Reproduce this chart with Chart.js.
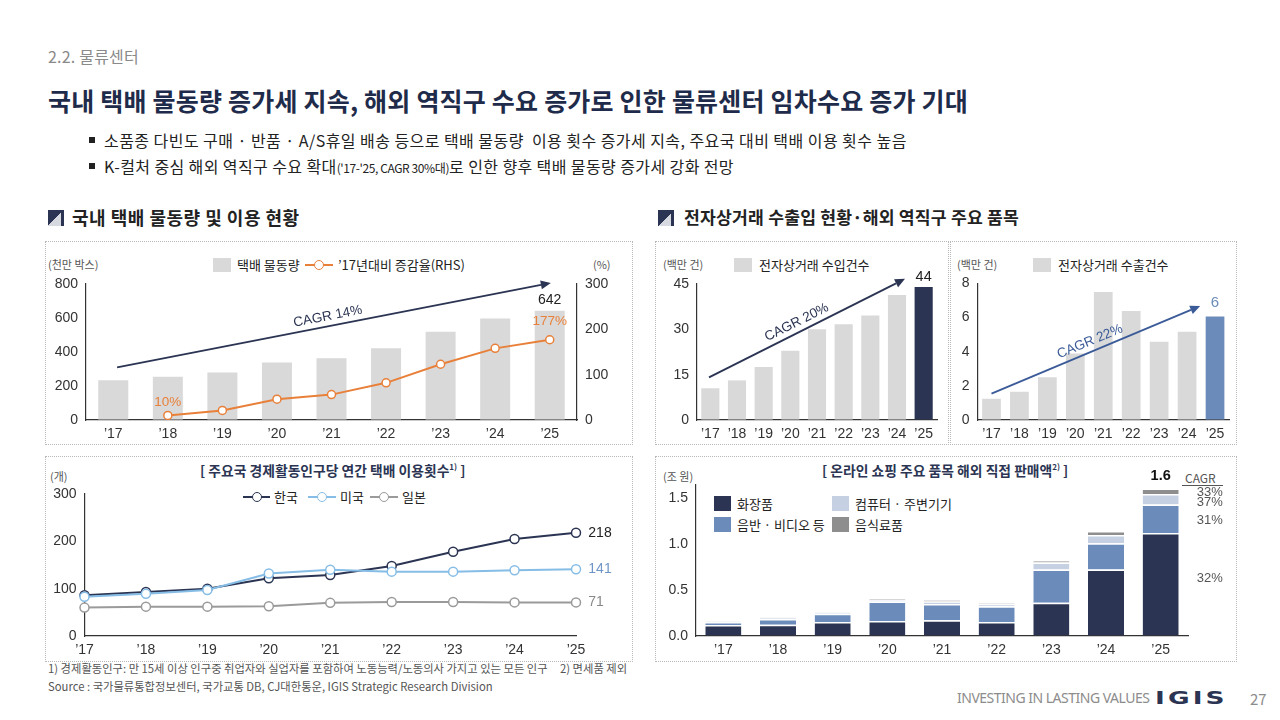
<!DOCTYPE html>
<html><head><meta charset="utf-8">
<script src="https://cdn.jsdelivr.net/npm/chart.js@4.4.1/dist/chart.umd.min.js"></script>
<style>
body{margin:0;width:1280px;height:720px;position:relative;background:#fff;font-family:"Noto Sans CJK KR","Noto Sans",sans-serif;overflow:hidden;color:#222;}
.t{position:absolute;white-space:nowrap;line-height:1;}
.panel{position:absolute;border:1px dotted #b8b8b8;box-sizing:border-box;}
canvas{position:absolute;}
.sq{position:absolute;}
.lg{position:absolute;height:2px;}
.lg i{position:absolute;left:50%;top:50%;width:8px;height:8px;margin:-5px 0 0 -5px;border-radius:50%;background:#fff;border:1.5px solid;}
.icon{position:absolute;width:16px;height:16px;background:linear-gradient(135deg,#2b3553 0 50%,#d6d9df 50% 100%);box-sizing:border-box;border-top:3px solid #2b3553;border-right:3px solid #2b3553;}
</style></head>
<body>
<div class="t" style="left:48px;top:48px;font-size:16px;color:#8a8a8a;letter-spacing:0.2px;">2.2. 물류센터</div>
<div class="t" style="left:48px;top:88px;font-size:25px;font-weight:700;color:#1f2b4a;letter-spacing:0.2px;">국내 택배 물동량 증가세 지속, 해외 역직구 수요 증가로 인한 물류센터 임차수요 증가 기대</div>
<div class="sq" style="left:89px;top:137px;width:6px;height:6px;background:#222;"></div>
<div class="t" style="left:104px;top:132px;font-size:16px;letter-spacing:0.45px;">소품종 다빈도 구매 · 반품 · A/S휴일 배송 등으로 택배 물동량&nbsp; 이용 횟수 증가세 지속, 주요국 대비 택배 이용 횟수 높음</div>
<div class="sq" style="left:89px;top:163px;width:6px;height:6px;background:#222;"></div>
<div class="t" style="left:104px;top:158px;font-size:16px;letter-spacing:0.4px;">K-컬처 중심 해외 역직구 수요 확대<span style="font-size:12px;letter-spacing:-0.4px;">('17-'25, CAGR 30%대)</span>로 인한 향후 택배 물동량 증가세 강화 전망</div>

<div class="icon" style="left:48px;top:210px;"></div>
<div class="t" style="left:72px;top:208px;font-size:18px;font-weight:700;color:#222;letter-spacing:0.5px;">국내 택배 물동량 및 이용 현황</div>
<div class="icon" style="left:658px;top:210px;"></div>
<div class="t" style="left:684px;top:208px;font-size:17.2px;font-weight:700;color:#222;letter-spacing:0.2px;">전자상거래 수출입 현황·해외 역직구 주요 품목</div>

<div class="panel" style="left:45px;top:241px;width:588px;height:204px;"></div>
<div class="panel" style="left:655px;top:241px;width:294px;height:204px;"></div>
<div class="panel" style="left:950px;top:241px;width:287px;height:204px;"></div>
<div class="panel" style="left:45px;top:456px;width:588px;height:206px;"></div>
<div class="panel" style="left:655px;top:456px;width:582px;height:206px;"></div>

<!-- Panel A texts -->
<div class="t" style="left:48px;top:259px;font-size:11px;color:#555;">(천만 박스)</div>
<div class="t" style="left:593px;top:259px;font-size:11px;color:#555;">(%)</div>
<div class="sq" style="left:213px;top:258px;width:18px;height:14px;background:#d9d9d9;"></div>
<div class="t" style="left:237px;top:258px;font-size:13px;color:#222;">택배 물동량</div>
<div class="lg" style="left:305px;top:264px;width:28px;background:#e8803a;"><i style="border-color:#e8803a"></i></div>
<div class="t" style="left:338px;top:258px;font-size:13px;color:#222;">’17년대비 증감율(RHS)</div>

<!-- Panel B texts -->
<div class="t" style="left:663px;top:259px;font-size:11px;color:#555;">(백만 건)</div>
<div class="sq" style="left:734px;top:258px;width:18px;height:14px;background:#d9d9d9;"></div>
<div class="t" style="left:759px;top:258px;font-size:13px;color:#222;">전자상거래 수입건수</div>
<!-- Panel C texts -->
<div class="t" style="left:957px;top:259px;font-size:11px;color:#555;">(백만 건)</div>
<div class="sq" style="left:1033px;top:258px;width:18px;height:14px;background:#d9d9d9;"></div>
<div class="t" style="left:1058px;top:258px;font-size:13px;color:#222;">전자상거래 수출건수</div>

<!-- Panel D texts -->
<div class="t" style="left:50px;top:471px;font-size:11px;color:#555;">(개)</div>
<div class="t" style="left:200px;top:463px;font-size:13.8px;font-weight:700;color:#2b3553;">[ 주요국 경제활동인구당 연간 택배 이용횟수<sup style="font-size:8px;">1)</sup> ]</div>
<div class="lg" style="left:243px;top:496px;width:27px;background:#2b3553;"><i style="border-color:#2b3553"></i></div>
<div class="t" style="left:274px;top:490px;font-size:13px;">한국</div>
<div class="lg" style="left:308px;top:496px;width:28px;background:#86bde6;"><i style="border-color:#86bde6"></i></div>
<div class="t" style="left:340px;top:490px;font-size:13px;">미국</div>
<div class="lg" style="left:370px;top:496px;width:28px;background:#9a9a9a;"><i style="border-color:#9a9a9a"></i></div>
<div class="t" style="left:402px;top:490px;font-size:13px;">일본</div>

<!-- Panel E texts -->
<div class="t" style="left:663px;top:471px;font-size:11px;color:#555;">(조 원)</div>
<div class="t" style="left:822px;top:463px;font-size:13.8px;font-weight:700;color:#2b3553;">[ 온라인 쇼핑 주요 품목 해외 직접 판매액<sup style="font-size:8px;">2)</sup> ]</div>
<div class="sq" style="left:714px;top:496px;width:17px;height:15px;background:#2b3553;"></div>
<div class="t" style="left:737px;top:497px;font-size:13px;">화장품</div>
<div class="sq" style="left:832px;top:496px;width:17px;height:15px;background:#c5d1e3;"></div>
<div class="t" style="left:855px;top:497px;font-size:13px;">컴퓨터 · 주변기기</div>
<div class="sq" style="left:714px;top:517px;width:17px;height:15px;background:#6b8cba;"></div>
<div class="t" style="left:737px;top:518px;font-size:13px;">음반 · 비디오 등</div>
<div class="sq" style="left:832px;top:517px;width:17px;height:15px;background:#8e8e8e;"></div>
<div class="t" style="left:855px;top:518px;font-size:13px;">음식료품</div>
<div class="t" style="left:1185px;top:472px;font-size:12px;color:#555;">CAGR</div>
<div class="sq" style="left:1182px;top:485px;width:41px;height:1px;background:#555;"></div>

<!-- footnotes -->
<div class="t" style="left:48px;top:663px;font-size:11.3px;color:#555;">1) 경제활동인구: 만 15세 이상 인구중 취업자와 실업자를 포함하여 노동능력/노동의사 가지고 있는 모든 인구</div>
<div class="t" style="left:560px;top:663px;font-size:11.3px;color:#555;">2) 면세품 제외</div>
<div class="t" style="left:48px;top:681px;font-size:11.3px;color:#555;">Source : 국가물류통합정보센터, 국가교통 DB, CJ대한통운, IGIS Strategic Research Division</div>
<div class="t" style="left:957px;top:691px;font-size:14px;color:#8c8c8c;font-family:'Noto Sans',sans-serif;letter-spacing:-0.5px;">INVESTING IN LASTING VALUES</div>
<div class="t" style="left:1155px;top:690px;font-size:17px;font-weight:900;color:#2b3553;font-family:'DejaVu Sans',sans-serif;letter-spacing:2px;transform:scaleX(1.55);transform-origin:0 0;">IGIS</div>
<div class="t" style="left:1250px;top:691px;font-size:15px;color:#8c8c8c;">27</div>

<canvas id="cA" width="587" height="202" style="left:45px;top:242px;"></canvas>
<canvas id="cB" width="293" height="202" style="left:655px;top:242px;"></canvas>
<canvas id="cC" width="286" height="202" style="left:950px;top:242px;"></canvas>
<canvas id="cD" width="587" height="204" style="left:45px;top:457px;"></canvas>
<canvas id="cE" width="581" height="204" style="left:655px;top:457px;"></canvas>

<script>
// ---------- DATA ----------
const years = ['’17','’18','’19','’20','’21','’22','’23','’24','’25'];
const parcelVolume = [234, 255, 279, 338, 363, 422, 519, 597, 642];        // 천만 박스
const growthVs17 = [null, 10, 21, 46, 56, 82, 123, 158, 177];                // %
const importCount = [10.5, 13.1, 17.5, 22.9, 30.0, 31.7, 34.6, 41.4, 44];    // 백만 건
const exportCount = [1.24, 1.65, 2.51, 3.9, 7.5, 6.39, 4.58, 5.17, 6.07];   // 백만 건
const usesKorea = [86, 93, 100, 122, 129, 148, 178, 205, 218];
const usesUS    = [83, 89, 97, 132, 140, 136, 136, 139, 141];
const usesJapan = [60, 62, 62, 63, 70, 72, 72, 71, 71];
const cosmetics  = [0.119, 0.123, 0.152, 0.162, 0.170, 0.152, 0.361, 0.722, 1.119];
const musicVideo = [0.033, 0.061, 0.090, 0.213, 0.177, 0.170, 0.361, 0.285, 0.310];
const computers  = [0.007, 0.014, 0.011, 0.018, 0.029, 0.022, 0.076, 0.090, 0.112];
const foods      = [0.000, 0.004, 0.003, 0.014, 0.014, 0.011, 0.022, 0.043, 0.061];
const cagrLabels = ['32%', '31%', '37%', '33%'];
// ---------- STYLE ----------
const NAVY='#2b3553', GREY='#d9d9d9', ORANGE='#e8803a', STEEL='#6b8cba', LIGHT='#c5d1e3', FOOD='#8e8e8e', US='#86bde6', JP='#9a9a9a';
const NUMFONT = "'Liberation Sans', 'Noto Sans CJK KR', sans-serif";
Chart.defaults.font.family = NUMFONT;
Chart.defaults.color = '#333';
Chart.defaults.animation = false;
Chart.defaults.plugins.legend.display = false;
Chart.defaults.plugins.tooltip.enabled = false;

function xAxis(h, offset){ return {offset: offset, grid:{display:true, drawOnChartArea:false, drawTicks:false}, border:{color:'#333', width:1.2},
  ticks:{font:{size:14}, color:'#333', padding:6, maxRotation:0, autoSkip:false}, afterFit(s){s.height=h;}}; }
function yAxis(w, min, max, step, pos, fmt){ return {position:pos||'left', min:min, max:max,
  grid:{display:true, drawOnChartArea:false, drawTicks:false}, border:{color:'#333', width:1.2},
  ticks:{stepSize:step, font:{size:14}, color:'#333', padding:8, includeBounds:false, callback: fmt || (v=>v)}, afterFit(s){s.width=w;}}; }

function arrowPlugin(id, spec){
  return {id:id, afterDatasetsDraw(chart){
    const ctx=chart.ctx, xs=chart.scales.x, ys=chart.scales[spec.axis||'y'];
    const x1=xs.getPixelForValue(spec.from[0]), y1=ys.getPixelForValue(spec.from[1]);
    const x2=xs.getPixelForValue(spec.to[0]), y2=ys.getPixelForValue(spec.to[1]);
    const ang=Math.atan2(y2-y1,x2-x1);
    ctx.save(); ctx.strokeStyle=spec.color; ctx.fillStyle=spec.color; ctx.lineWidth=1.8;
    const hl=10, hw=4.5;
    const bx=x2-hl*Math.cos(ang), by=y2-hl*Math.sin(ang);
    ctx.beginPath(); ctx.moveTo(x1,y1); ctx.lineTo(bx,by); ctx.stroke();
    ctx.beginPath(); ctx.moveTo(x2,y2);
    ctx.lineTo(bx+hw*Math.sin(ang), by-hw*Math.cos(ang));
    ctx.lineTo(bx-hw*Math.sin(ang), by+hw*Math.cos(ang)); ctx.closePath(); ctx.fill();
    const tx=x1+(x2-x1)*spec.t, ty=y1+(y2-y1)*spec.t;
    ctx.translate(tx,ty); ctx.rotate(ang); ctx.font="13.5px "+NUMFONT; ctx.textAlign='center'; ctx.textBaseline='bottom';
    ctx.fillText(spec.text,0,-3);
    ctx.restore();
  }};
}
function labelPlugin(id, items){
  return {id:id, afterDatasetsDraw(chart){
    const ctx=chart.ctx; ctx.save();
    items.forEach(it=>{
      const el=chart.getDatasetMeta(it.ds).data[it.i];
      let x=el.x+(it.dx||0), y=el.y+(it.dy||0);
      if(it.mid){ y=(el.y+el.base)/2+(it.dy||0); x=el.x+el.width/2+(it.dx||0); }
      ctx.font=(it.bold?'bold ':'')+(it.size||13.5)+'px '+NUMFONT; ctx.fillStyle=it.color;
      ctx.textAlign=it.align||'center'; ctx.textBaseline='middle'; ctx.fillText(it.text,x,y);
    });
    ctx.restore();
  }};
}

// ---------- CHART A ----------
new Chart(document.getElementById('cA'), {
  type:'bar',
  data:{labels:years, datasets:[
    {type:'line', label:'’17년대비 증감율(RHS)', data:growthVs17, yAxisID:'y1', borderColor:ORANGE, borderWidth:2,
     pointRadius:4, pointBackgroundColor:'#fff', pointBorderColor:ORANGE, pointBorderWidth:1.5, order:0},
    {label:'택배 물동량', data:parcelVolume, yAxisID:'y', backgroundColor:GREY, categoryPercentage:1, barPercentage:0.55, order:1}
  ]},
  options:{responsive:false, layout:{padding:{top:42,left:0,right:0,bottom:0}},
    scales:{x:xAxis(24,true), y:yAxis(41,0,800,200,'left'), y1:yAxis(55,0,300,100,'right')}},
  plugins:[arrowPlugin('arA',{from:[0.07,310],to:[8.02,806],color:NAVY,text:'CAGR 14%',t:0.49}),
    labelPlugin('lbA',[
      {ds:1,i:8,text:'642',color:'#222',dy:-11,size:14},
      {ds:0,i:8,text:'177%',color:ORANGE,dy:-18,size:13.5},
      {ds:0,i:1,text:'10%',color:ORANGE,dy:-13,size:13.5}
    ])]
});

// ---------- CHART B ----------
new Chart(document.getElementById('cB'), {
  type:'bar',
  data:{labels:years, datasets:[
    {label:'전자상거래 수입건수', data:importCount, backgroundColor:years.map((_,i)=>i===years.length-1?NAVY:GREY), categoryPercentage:1, barPercentage:0.68}
  ]},
  options:{responsive:false, layout:{padding:{top:42,left:0,right:11,bottom:0}},
    scales:{x:xAxis(24,true), y:yAxis(42,0,45,15,'left')}},
  plugins:[arrowPlugin('arB',{from:[-0.05,14.1],to:[7.3,46.7],color:NAVY,text:'CAGR 20%',t:0.47}),
    labelPlugin('lbB',[{ds:0,i:8,text:'44',color:'#222',dy:-10,size:14.5,bold:false}])]
});

// ---------- CHART C ----------
new Chart(document.getElementById('cC'), {
  type:'bar',
  data:{labels:years, datasets:[
    {label:'전자상거래 수출건수', data:exportCount, backgroundColor:years.map((_,i)=>i===years.length-1?STEEL:GREY), categoryPercentage:1, barPercentage:0.67}
  ]},
  options:{responsive:false, layout:{padding:{top:41.5,left:0,right:7,bottom:0}},
    scales:{x:xAxis(24,true), y:yAxis(27.5,0,8,2,'left')}},
  plugins:[arrowPlugin('arC',{from:[0,1.55],to:[7.47,6.68],color:'#3b5b98',text:'CAGR 22%',t:0.49}),
    labelPlugin('lbC',[{ds:0,i:8,text:'6',color:STEEL,dy:-14,size:15}])]
});

// ---------- CHART D ----------
function lineDs(label,data,color){ return {label:label, data:data, borderColor:color, borderWidth:2, pointRadius:4.5,
  pointBackgroundColor:'#fff', pointBorderColor:color, pointBorderWidth:1.5, tension:0}; }
new Chart(document.getElementById('cD'), {
  type:'line',
  data:{labels:years, datasets:[lineDs('일본',usesJapan,JP), lineDs('미국',usesUS,US), lineDs('한국',usesKorea,NAVY)]},
  options:{responsive:false, layout:{padding:{top:37,left:0,right:56,bottom:0}},
    scales:{x:xAxis(25,false), y:yAxis(39.5,0,300,100,'left')}},
  plugins:[labelPlugin('lbD',[
    {ds:2,i:8,text:'218',color:'#222',dx:24,size:14},
    {ds:1,i:8,text:'141',color:'#6f96c6',dx:24,size:14},
    {ds:0,i:8,text:'71',color:'#888',dx:20,size:14}
  ])]
});

// ---------- CHART E ----------
function stackDs(label,data,color){ return {label:label, data:data, backgroundColor:color, borderColor:'#fff',
  borderWidth:{top:1.5,left:0,right:0,bottom:0}, borderSkipped:false, categoryPercentage:1, barPercentage:0.66, stack:'s'}; }
new Chart(document.getElementById('cE'), {
  type:'bar',
  data:{labels:years, datasets:[stackDs('화장품',cosmetics,NAVY), stackDs('음반 · 비디오 등',musicVideo,STEEL),
    stackDs('컴퓨터 · 주변기기',computers,LIGHT), stackDs('음식료품',foods,FOOD)]},
  options:{responsive:false, layout:{padding:{top:28,left:0,right:48,bottom:0}},
    scales:{x:Object.assign(xAxis(25,true),{stacked:true}), y:Object.assign(yAxis(41,0,1.64,0.5,'left',v=>v.toFixed(1)),{stacked:true})}},
  plugins:[labelPlugin('lbE',[
    {ds:3,i:8,text:'1.6',color:'#111',dy:-12,size:14.5,bold:true},
    {ds:0,i:8,text:cagrLabels[0],color:'#555',mid:true,dx:18,dy:-6,size:13,align:'left'},
    {ds:1,i:8,text:cagrLabels[1],color:'#555',mid:true,dx:18,dy:2,size:13,align:'left'},
    {ds:2,i:8,text:cagrLabels[2],color:'#555',mid:true,dx:18,dy:3,size:13,align:'left'},
    {ds:3,i:8,text:cagrLabels[3],color:'#555',mid:true,dx:18,dy:1,size:13,align:'left'}
  ])]
});
</script>
</body></html>
